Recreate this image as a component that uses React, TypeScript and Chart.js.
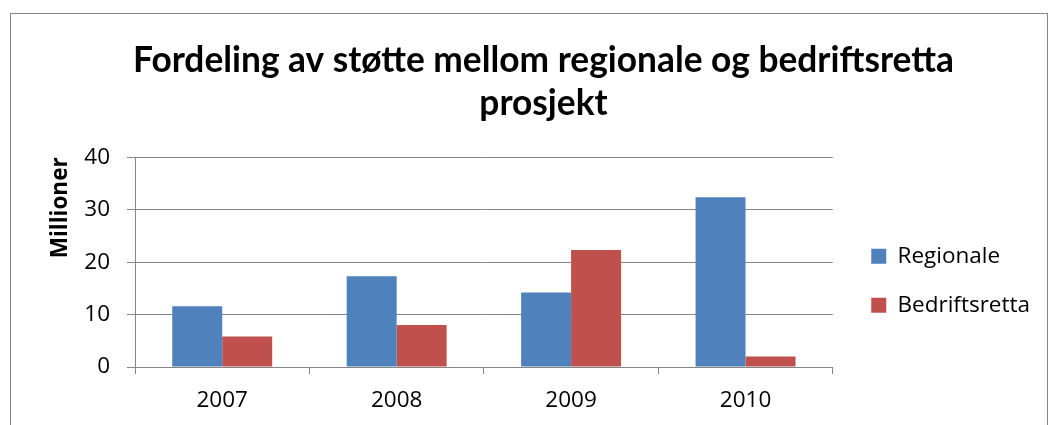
import React, { useEffect, useRef } from "react";
import { Chart, registerables } from "chart.js";

Chart.register(...registerables);

const years = ["2007", "2008", "2009", "2010"];
const regionale = [11.6, 17.3, 14.2, 32.4];
const bedriftsretta = [5.8, 8.0, 22.3, 2.0];
const titleLines = ["Fordeling av støtte mellom regionale og bedriftsretta", "prosjekt"];
const yTitle = "Millioner";
const seriesNames = ["Regionale", "Bedriftsretta"];

const frame = {
  id: "frame",
  beforeDraw(chart: any) {
    const ctx = chart.ctx;
    ctx.save();
    ctx.fillStyle = "#ffffff";
    ctx.fillRect(0, 0, chart.width, chart.height);
    ctx.strokeStyle = "#868686";
    ctx.lineWidth = 1;
    ctx.strokeRect(10.5, 13.5, 1037, 430);
    ctx.restore();
  },
};

export default function App() {
  const ref = useRef<HTMLCanvasElement>(null);
  useEffect(() => {
    if (!ref.current) return;
    const grid = "#868686";
    const tickFont = { family: "'Open Sans'", size: 22.5 };
    const chart = new Chart(ref.current, {
      type: "bar",
      data: {
        labels: years,
        datasets: [
          { label: seriesNames[0], data: regionale, backgroundColor: "#4F81BD", categoryPercentage: 0.573, barPercentage: 1 },
          { label: seriesNames[1], data: bedriftsretta, backgroundColor: "#C0504D", categoryPercentage: 0.573, barPercentage: 1 },
        ],
      },
      options: {
        responsive: false,
        animation: false,
        layout: { padding: { left: 47, right: 11, top: 0, bottom: -2 } },
        plugins: {
          title: {
            display: true,
            text: titleLines,
            color: "#000",
            font: { family: "Lato", size: 35.3, weight: "bold", lineHeight: 1.23 },
            padding: { top: 38.5, bottom: 32 },
          },
          legend: {
            display: true,
            position: "right",
            fullSize: false,
            title: { display: true, text: " ", font: { size: 10, lineHeight: 1.2 }, padding: 12.5 },
            labels: {
              boxWidth: 15,
              boxHeight: 15,
              padding: 26.5,
              color: "#000",
              font: tickFont,
            },
          },
          tooltip: { enabled: false },
        },
        scales: {
          x: {
            grid: { display: true, drawOnChartArea: false, drawTicks: true, tickLength: 7, color: grid, offset: true },
            border: { color: grid },
            ticks: { color: "#000", font: tickFont, padding: 13 },
          },
          y: {
            min: 0,
            max: 40,
            ticks: { stepSize: 10, color: "#000", font: tickFont, padding: 17 },
            grid: { color: grid, tickLength: 8 },
            border: { color: grid },
            title: {
              display: true,
              text: yTitle,
              align: "end",
              color: "#000",
              font: { family: "'Open Sans'", size: 22.5, weight: "bold", lineHeight: 1.2 },
              padding: { top: 0, bottom: 0 },
            },
            afterFit: (s: any) => {
              s.width = 88;
            },
          },
          yDummy: {
            type: "linear",
            position: "right",
            display: false,
            afterFit: (s: any) => {
              s.width = 12;
            },
          } as any,
        },
      },
      plugins: [frame],
    });
    return () => chart.destroy();
  }, []);
  return (
    <div style={{ position: "absolute", left: 0, top: 0, width: 1051, height: 425 }}>
      <canvas ref={ref} width={1051} height={425} style={{ display: "block" }} />
    </div>
  );
}
